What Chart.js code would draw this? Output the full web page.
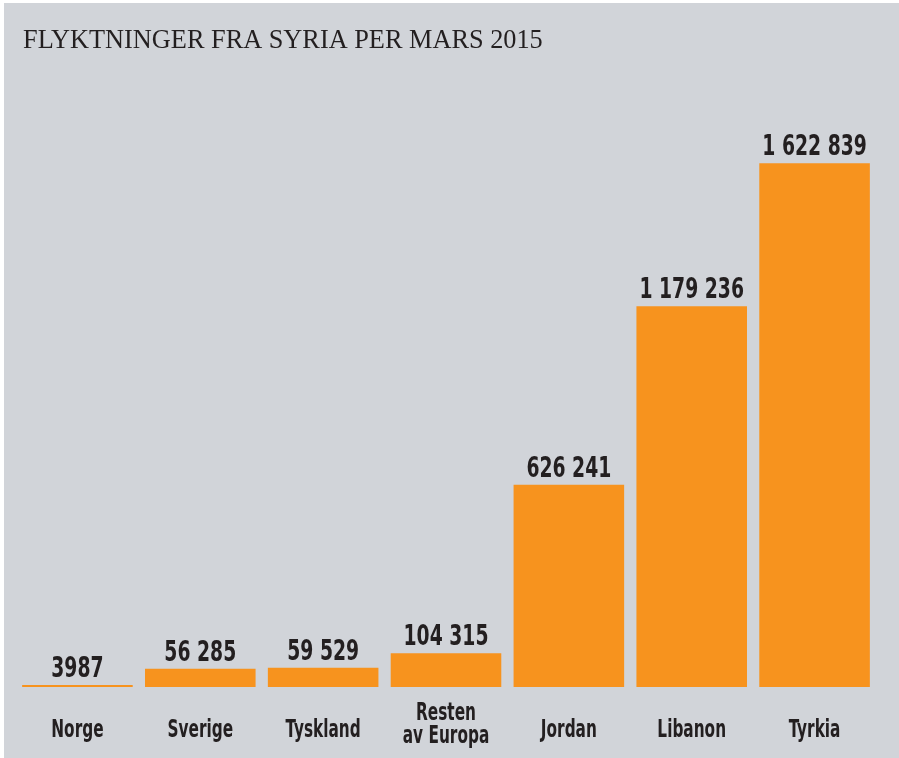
<!DOCTYPE html>
<html>
<head>
<meta charset="utf-8">
<script src="https://cdn.jsdelivr.net/npm/chart.js@4/dist/chart.umd.min.js"></script>
<style>
  html, body { margin: 0; padding: 0; background: #ffffff; }
  #wrap { position: absolute; left: 4px; top: 3px; width: 895px; height: 755px; background: #d1d4d9; }
  canvas { display: block; }
</style>
</head>
<body>
<div id="wrap"><canvas id="c" width="895" height="755"></canvas></div>
<script>
const title = 'FLYKTNINGER FRA SYRIA PER MARS 2015';
const categories = ['Norge', 'Sverige', 'Tyskland', ['Resten', 'av Europa'], 'Jordan', 'Libanon', 'Tyrkia'];
const refugees = [3987, 56285, 59529, 104315, 626241, 1179236, 1622839];

const ORANGE = '#f7931e';
const INK = '#231f20';
const COND = "'Liberation Sans Narrow', 'DejaVu Sans Condensed', 'Arial Narrow', sans-serif";

function fmt(v) {
  if (v < 10000) return String(v);
  return String(v).replace(/\B(?=(\d{3})+(?!\d))/g, ' ');
}

function narrowText(ctx, text, x, y, sx) {
  ctx.save();
  ctx.translate(x, y);
  ctx.scale(sx, 1);
  ctx.fillText(text, 0, 0);
  ctx.restore();
}

const labelsPlugin = {
  id: 'labelsPlugin',
  afterDatasetsDraw(chart) {
    const ctx = chart.ctx;
    const meta = chart.getDatasetMeta(0);
    const xs = chart.scales.x;
    ctx.save();
    ctx.fillStyle = INK;
    // title
    ctx.font = "26.3px 'Liberation Serif', 'Times New Roman', serif";
    ctx.textAlign = 'left';
    ctx.textBaseline = 'alphabetic';
    ctx.fillText(title, 19, 45);
    // value labels
    ctx.font = 'bold 29px ' + COND;
    ctx.textAlign = 'center';
    meta.data.forEach((bar, i) => {
      narrowText(ctx, fmt(refugees[i]), bar.x, bar.y - 8, 0.72);
    });
    // category labels
    ctx.font = 'bold 24px ' + COND;
    categories.forEach((c, i) => {
      const lines = Array.isArray(c) ? c : [c];
      const x = xs.getPixelForValue(i);
      const first = 734 - (lines.length - 1) * 17;
      lines.forEach((ln, j) => narrowText(ctx, ln, x, first + j * 23, 0.71));
    });
    ctx.restore();
  }
};

new Chart(document.getElementById('c'), {
  type: 'bar',
  data: {
    labels: categories,
    datasets: [{
      data: refugees,
      backgroundColor: ORANGE,
      borderWidth: 0,
      categoryPercentage: 0.9,
      barPercentage: 1.0,
      minBarLength: 2
    }]
  },
  options: {
    responsive: false,
    animation: false,
    layout: { padding: { left: 12, right: 23, top: 103, bottom: 71 } },
    plugins: { legend: { display: false }, tooltip: { enabled: false }, title: { display: false } },
    scales: {
      x: { display: false },
      y: { display: false, min: 0, max: 1800000 }
    }
  },
  plugins: [labelsPlugin]
});
</script>
</body>
</html>
